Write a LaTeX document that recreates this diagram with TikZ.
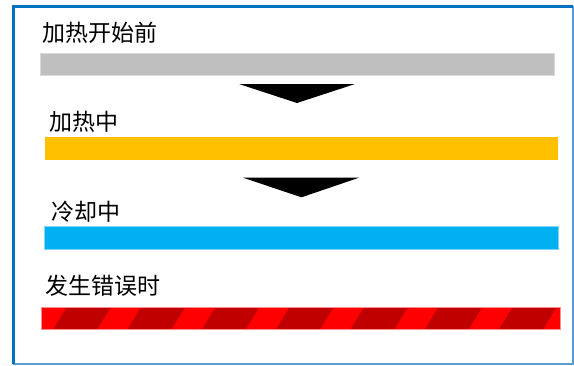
\documentclass[tikz,border=0pt]{standalone}
\usepackage{fontspec}
\newfontfamily\cjk{Noto Sans CJK SC}
\definecolor{frameblue}{HTML}{0070C0}
\definecolor{edgeblue}{HTML}{5B9BD5}
\definecolor{idlegray}{HTML}{BFBFBF}
\definecolor{heatorange}{HTML}{FFC000}
\definecolor{coolblue}{HTML}{00B0F0}
\definecolor{errred}{HTML}{FF0000}
\definecolor{errdark}{HTML}{C00000}
\tikzset{statelabel/.style={anchor=west,inner sep=0pt,font=\cjk\fontsize{23}{28}\selectfont}}

\begin{document}
\begin{tikzpicture}[x=1pt,y=-1pt]
\useasboundingbox (0,0) rectangle (574,365);

% frame
\draw[color=edgeblue,line width=1.5pt] (13.3,6.5) -- (573,6.5) -- (573,363.8) -- (13.3,363.8);
\draw[color=frameblue,line width=3.5pt] (13.3,363.8) -- (13.3,6.5) -- (573,6.5);

% state bars
\draw[color=idlegray!60!white,fill=idlegray,line width=.6pt] (40,53) rectangle (554,75.3);
\fill[color=heatorange] (45,137) rectangle (558,159.7);
\draw[color=coolblue!50!white,fill=coolblue,line width=.6pt] (44.3,226.5) rectangle (558,249);

\begin{scope}
\clip (41.7,307.3) rectangle (560,329.3);
\fill[color=errred] (41.7,307.3) rectangle (560,329.3);
\foreach \k in {0,...,6}{
  \pgfmathsetmacro{\xt}{66.7+74.3*\k}
  \fill[color=errdark] (\xt-13.5,329.3) -- (\xt,307.3) -- (\xt+44,307.3) -- (\xt+30.5,329.3) -- cycle;
}
\end{scope}
\draw[color=errred!45!white,line width=.6pt] (41.7,307.3) rectangle (560,329.3);

% arrows between states
\fill[color=black] (239,84) -- (355,84) -- (297,103) -- cycle;
\fill[color=black] (243,177.7) -- (359,177.7) -- (301.5,197.3) -- cycle;

% labels
\node[statelabel] (lblIdle) at (42,33) {加热开始前};
\node[statelabel] (lblHeat) at (49,122) {加热中};
\node[statelabel] (lblCool) at (51,212) {冷却中};
\node[statelabel] (lblError) at (45,285.5) {发生错误时};

\end{tikzpicture}
\end{document}
